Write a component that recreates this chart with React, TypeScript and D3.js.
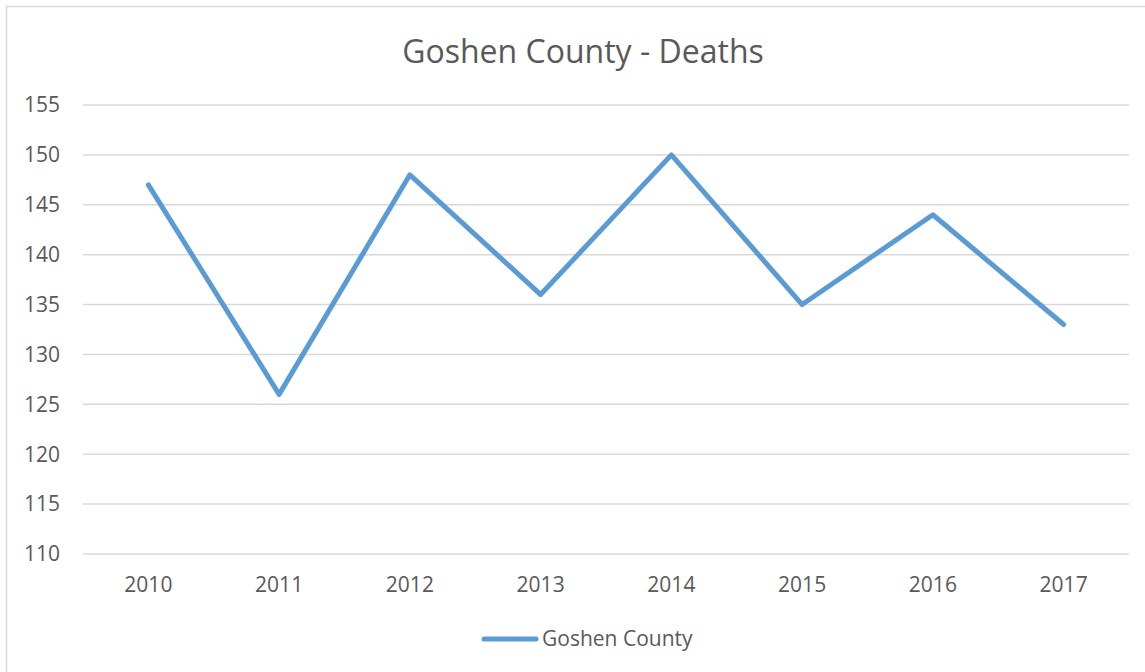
import { useEffect, useRef } from "react";
import * as d3 from "d3";

const years = ["2010", "2011", "2012", "2013", "2014", "2015", "2016", "2017"];
const deaths = [147, 126, 148, 136, 150, 135, 144, 133];
const yTicks = [110, 115, 120, 125, 130, 135, 140, 145, 150, 155];
const title = "Goshen County - Deaths";
const seriesName = "Goshen County";

const W = 1145;
const H = 672;
const margin = { top: 105, bottom: 118, left: 83, right: 16 };
const lineColor = "#5b9bd5";
const textColor = "#595959";
const font = "'Open Sans', 'Noto Sans', sans-serif";

export default function App() {
  const gRef = useRef<SVGGElement | null>(null);

  const width = W - margin.left - margin.right;
  const height = H - margin.top - margin.bottom;

  useEffect(() => {
    const g = d3.select(gRef.current);

    const x = d3.scaleBand<string>().domain(years).range([0, width]);
    const y = d3.scaleLinear().domain([110, 155]).range([height, 0]);

    // gridlines
    g.append("g")
      .selectAll("line")
      .data(yTicks)
      .join("line")
        .attr("x1", 0)
        .attr("x2", width)
        .attr("y1", d => y(d))
        .attr("y2", d => y(d))
        .attr("stroke", "#d9d9d9")
        .attr("stroke-width", 1.5);

    // y labels
    g.append("g")
      .selectAll("text")
      .data(yTicks)
      .join("text")
        .attr("x", -23)
        .attr("y", d => y(d))
        .attr("dy", "0.35em")
        .attr("text-anchor", "end")
        .attr("fill", textColor)
        .style("font-family", font)
        .style("font-size", "21px")
        .text(d => d);

    // x labels
    g.append("g")
      .selectAll("text")
      .data(years)
      .join("text")
        .attr("x", d => (x(d) ?? 0) + x.bandwidth() / 2)
        .attr("y", height + 38)
        .attr("text-anchor", "middle")
        .attr("fill", textColor)
        .style("font-family", font)
        .style("font-size", "21px")
        .text(d => d);

    const line = d3.line<number>()
      .x((_, i) => (x(years[i]) ?? 0) + x.bandwidth() / 2)
      .y(d => y(d));

    g.append("path")
      .datum(deaths)
      .attr("d", line)
      .attr("fill", "none")
      .attr("stroke", lineColor)
      .attr("stroke-width", 5)
      .attr("stroke-linejoin", "round")
      .attr("stroke-linecap", "round");

    return () => { g.selectAll("*").remove(); };
  }, []);

  return (
    <svg width={W} height={H} style={{ position: "absolute", left: 0, top: 0, background: "#fff" }}>
      <rect x={6.5} y={6.5} width={W} height={H} fill="#fff" stroke="#d9d9d9" strokeWidth={1.5} />
      <text x={583} y={63} textAnchor="middle" fill={textColor} style={{ fontFamily: font, fontSize: "32px" }}>{title}</text>
      <g ref={gRef} transform={`translate(${margin.left}, ${margin.top})`}></g>
      <line x1={484} x2={536} y1={639} y2={639} stroke={lineColor} strokeWidth={5} strokeLinecap="round" />
      <text x={542} y={646} fill={textColor} style={{ fontFamily: font, fontSize: "21px" }}>{seriesName}</text>
    </svg>
  );
}
